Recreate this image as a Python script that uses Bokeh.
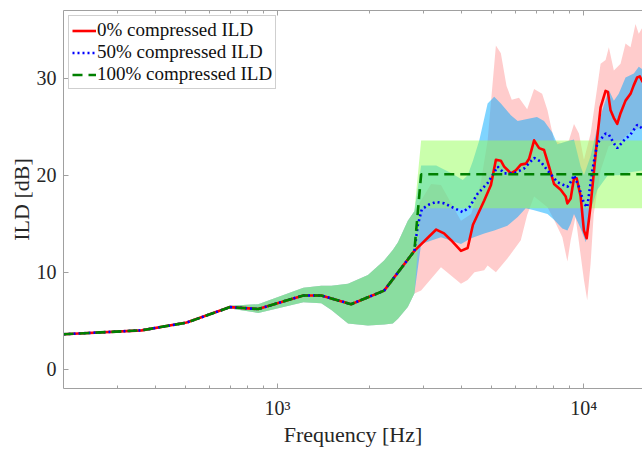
import numpy as np
from bokeh.plotting import figure
from bokeh.models import (FixedTicker, LogAxis, Legend, LegendItem, Range1d)
from bokeh.embed import file_html
from bokeh.resources import INLINE

# ---------------- data ----------------
# common part (all three conditions identical below ~2.8 kHz)
freq_common = [200, 360, 505, 700, 865, 1215, 1390, 1740, 2230, 2800]
ild_common = [3.6, 4.0, 4.8, 6.4, 6.2, 7.6, 7.6, 6.7, 8.1, 12.2]

band_c_freq = [200, 360, 505, 700, 865, 1215, 1390, 1500, 1700, 1975, 2230, 2380, 2475, 2665, 2800]
band_c_upper = [3.6, 4.0, 4.85, 6.55, 6.7, 8.4, 8.6, 8.6, 8.8, 9.7, 11.2, 12.3, 13.1, 15.3, 16.3]
band_c_lower = [3.6, 4.0, 4.75, 6.25, 5.8, 6.9, 6.8, 6.1, 4.7, 4.5, 4.6, 4.7, 5.2, 6.4, 7.8]

# 0% compressed ILD (high-frequency part)
red_hi_freq = [3300, 3500, 3690, 3975, 4180, 4350, 4735, 4980, 5170, 5365,
               5500, 5785, 6005, 6235, 6475, 6635, 6890, 7155, 7425, 7710,
               8005, 8415, 8740, 8850, 9070, 9300, 9490, 9780, 10020, 10230,
               10540, 11080, 11360, 11795, 12000, 12245, 12555, 12875, 13200, 13705,
               14230, 14585, 14960, 15255, 15600]
red_hi_ild = [14.4, 14.0, 13.3, 12.2, 12.5, 14.9, 17.4, 19.0, 21.6, 21.5,
              20.9, 20.2, 20.5, 21.1, 21.2, 21.7, 23.6, 22.8, 22.6, 20.9,
              19.1, 18.5, 17.8, 17.1, 17.6, 19.7, 19.7, 17.8, 14.3, 13.5,
              16.9, 23.9, 27.0, 28.7, 28.6, 26.7, 25.9, 25.3, 26.4, 27.7,
              28.4, 29.3, 30.1, 30.2, 29.6]

# 50% compressed ILD (high-frequency part)
blue_hi_freq = [2873, 2961, 3134, 3296, 3508, 3781, 4027, 4231, 4505, 4857,
                5104, 5236, 5501, 5929, 6391, 6889, 7244, 7619, 8208, 8850,
                9072, 9300, 9654, 10023, 10273, 10674, 11081, 11795, 12090, 12553,
                12877, 13534, 14229, 14961, 15600]
blue_hi_ild = [14.85, 16.5, 17.0, 17.25, 17.1, 16.6, 16.2, 16.7, 18.1, 19.2,
               20.3, 20.9, 20.2, 20.2, 20.7, 21.8, 21.4, 20.5, 19.3, 18.8,
               19.3, 20.0, 18.8, 17.1, 16.7, 20.5, 23.3, 24.3, 24.2, 23.3,
               22.8, 23.6, 24.2, 25.2, 24.8]

# 100% compressed ILD (high-frequency part)
green_hi_freq = [2946, 20000]
green_hi_ild = [20.1, 20.1]

# spread bands (high-frequency part)
pink_up_freq = [3175, 3420, 3975, 4290, 4600, 4857, 5169, 5366, 5600, 5825,
                6150, 6540, 6889, 7320, 7620, 8004, 8416, 8950, 9300, 9654,
                10023, 10539, 11081, 11360, 11795, 12090, 12553, 13199, 13705, 14229,
                14770, 15140, 15600]
pink_up = [19.1, 19.0, 15.3, 16.0, 19.0, 23.6, 33.4, 32.6, 29.2, 27.8,
           28.0, 26.8, 28.9, 28.4, 26.7, 23.6, 23.3, 23.6, 25.3, 24.3,
           21.6, 24.3, 29.1, 31.5, 31.9, 33.2, 30.8, 31.5, 33.6, 33.2,
           35.6, 34.6, 35.3]
pink_lo_freq = [2946, 3420, 3975, 4180, 4400, 4734, 4857, 5169, 5637, 6234,
                6540, 6889, 7620, 8004, 8520, 8850, 9072, 9410, 10023, 10273,
                10539, 10790, 11360, 12070, 13199, 14229, 15600]
pink_lo = [8.1, 10.5, 8.8, 9.2, 10.0, 10.2, 10.7, 10.0, 11.4, 13.3,
           15.9, 17.8, 16.7, 15.4, 13.6, 11.1, 13.3, 15.7, 9.2, 7.1,
           10.9, 16.0, 20.5, 23.0, 23.5, 24.5, 25.0]

blue_up_freq = [2946, 3300, 3700, 4030, 4180, 4350, 4560, 4857, 5104, 5366,
                5785, 6090, 6540, 7040, 7425, 7900, 8208, 8850, 9300, 9777,
                10023, 10539, 11081, 11580, 12090, 12553, 13020, 13705, 14590, 15140,
                15600]
blue_up = [21.0, 21.0, 20.2, 19.5, 20.0, 21.5, 23.6, 27.4, 28.1, 27.4,
           26.2, 25.6, 25.8, 26.0, 25.6, 24.4, 23.2, 23.5, 23.7, 20.9,
           20.0, 22.0, 24.9, 27.0, 28.8, 27.7, 28.4, 30.1, 30.5, 31.2,
           30.9]
blue_lo_freq = [2946, 3420, 3975, 4290, 4734, 5104, 5637, 6090, 6470, 6889,
                7620, 8004, 8520, 8850, 9072, 9300, 9777, 10170, 10539, 11081,
                12000, 13000, 14229, 15600]
blue_lo = [12.9, 13.6, 12.9, 13.5, 14.0, 14.3, 14.8, 15.7, 16.6, 16.4,
           16.0, 15.4, 14.5, 14.3, 15.0, 16.0, 14.5, 13.1, 16.4, 18.5,
           20.0, 20.0, 20.3, 20.5]

green_band_freq = [2946, 20000]
green_up = [23.6, 23.6]
green_lo = [16.6, 16.6]

x_ticks = [1000, 10000]
x_minor = [300, 400, 500, 600, 700, 800, 900, 2000, 3000, 4000, 5000, 6000, 7000, 8000, 9000]
y_ticks = [0, 10, 20, 30]
labels = ["0% compressed ILD", "50% compressed ILD", "100% compressed ILD"]

# ---------------- styling ----------------
FONT = "Liberation Serif"
AX = "#a0a0a0"
TXT = "#262626"

p = figure(width=642, height=449, x_axis_type="log",
           x_range=Range1d(200, 15570), y_range=Range1d(-2, 37),
           output_backend="svg", toolbar_location=None,
           min_border_left=63, min_border_right=0, min_border_top=10, min_border_bottom=61)
p.grid.visible = False
p.outline_line_color = None
p.background_fill_color = "white"


def band(up_f, up_v, lo_f, lo_v):
    xs = np.concatenate([band_c_freq, up_f, lo_f[::-1], band_c_freq[::-1]]).astype(float)
    ys = np.concatenate([band_c_upper, up_v, lo_v[::-1], band_c_lower[::-1]]).astype(float)
    return xs, ys


band_specs = [
    ((pink_up_freq, pink_up, pink_lo_freq, pink_lo), "#ff0000", 0.2),
    ((blue_up_freq, blue_up, blue_lo_freq, blue_lo), "#00aaff", 0.5),
    ((green_band_freq, green_up, green_band_freq, green_lo), "#96ff5a", 0.5),
]
for (uf, uv, lf, lv), col, a in band_specs:
    xs, ys = band(uf, uv, lf, lv)
    p.patch(x=xs, y=ys, fill_color=col, fill_alpha=a, line_color=None)

red_x = freq_common + red_hi_freq
red_y = ild_common + red_hi_ild
blue_x = freq_common + blue_hi_freq
blue_y = ild_common + blue_hi_ild
green_x = freq_common + green_hi_freq
green_y = ild_common + green_hi_ild

r_red = p.line(red_x, red_y, line_color="#ff0000", line_width=2.6, line_join="round")
r_blue = p.line(blue_x, blue_y, line_color="#0000ff", line_width=2.6, line_dash="2 3")
r_green = p.line(green_x, green_y, line_color="#008000", line_width=2.6, line_dash="10 6")

xa = p.xaxis[0]
xa.ticker = FixedTicker(ticks=x_ticks, minor_ticks=x_minor)
xa.major_label_overrides = {1000: "10³", 10000: "10⁴"}
xa.axis_label = "Frequency [Hz]"
xa.major_label_standoff = 8
xa.axis_label_standoff = 0

ya = p.yaxis[0]
ya.ticker = FixedTicker(ticks=y_ticks, minor_ticks=[])
ya.axis_label = "ILD [dB]"
ya.major_label_standoff = 7
ya.axis_label_standoff = 0

for ax in (xa, ya):
    ax.axis_line_color = AX
    ax.major_tick_line_color = AX
    ax.minor_tick_line_color = AX
    ax.major_tick_in = 5
    ax.major_tick_out = 0
    ax.minor_tick_in = 3
    ax.minor_tick_out = 0
    ax.major_label_text_font = FONT
    ax.major_label_text_font_size = "20px"
    ax.major_label_text_color = TXT
    ax.axis_label_text_font = FONT
    ax.axis_label_text_font_size = "22px"
    ax.axis_label_text_font_style = "normal"
    ax.axis_label_text_color = TXT

top = LogAxis(ticker=FixedTicker(ticks=x_ticks, minor_ticks=x_minor),
              major_label_text_font_size="1px", major_label_text_alpha=0,
              major_label_standoff=0,
              axis_line_color=AX, major_tick_line_color=AX, minor_tick_line_color=AX,
              major_tick_in=5, major_tick_out=0, minor_tick_in=3, minor_tick_out=0)
p.add_layout(top, "above")

legend = Legend(items=[LegendItem(label=labels[0], renderers=[r_red]),
                       LegendItem(label=labels[1], renderers=[r_blue]),
                       LegendItem(label=labels[2], renderers=[r_green])],
                location="top_left", margin=5, padding=3, spacing=0,
                glyph_width=24, glyph_height=21, label_height=21, label_standoff=1,
                label_text_font=FONT, label_text_font_size="19px", label_text_color="#111111",
                border_line_color=AX, border_line_width=1,
                background_fill_color="white", background_fill_alpha=1)
p.add_layout(legend)

open("out.html", "w").write(file_html(p, INLINE))
